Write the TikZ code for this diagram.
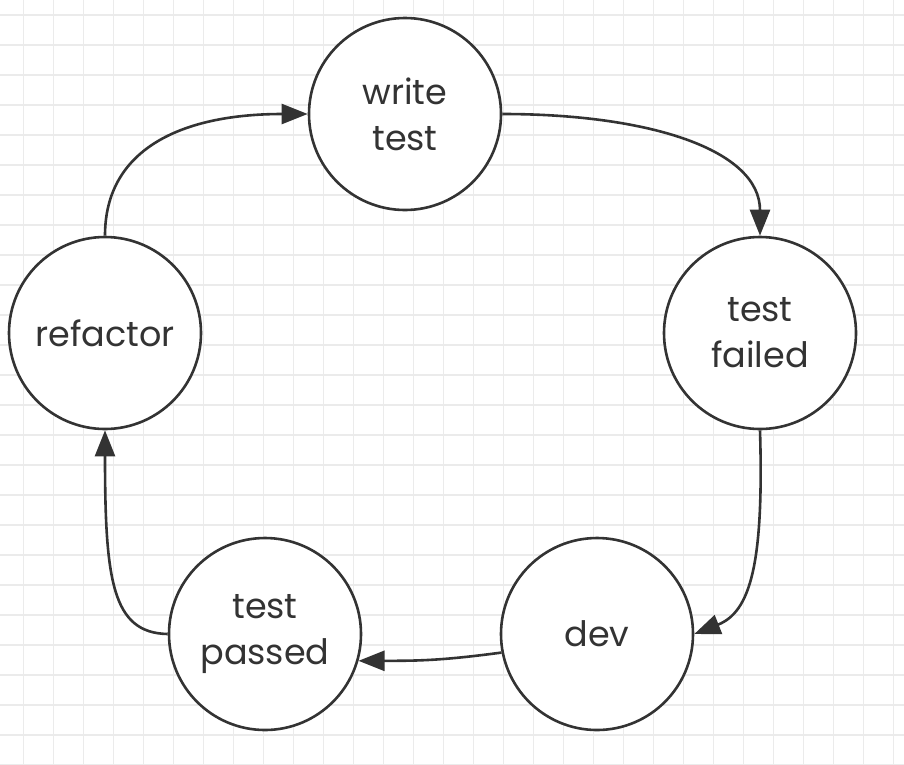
\documentclass[tikz,border=0pt]{standalone}
\usepackage{fontspec}
\setmainfont{Poppins}
\usetikzlibrary{arrows.meta}
\definecolor{ink}{HTML}{333333}
\definecolor{gridc}{HTML}{EBEBEB}
\tikzset{
  stage/.style={circle, draw=ink, line width=2.6pt, fill=white, minimum size=192pt, inner sep=0pt,
    text=ink, align=center, font=\fontsize{35}{46}\selectfont},
  flow/.style={draw=ink, line width=2.6pt, -{Triangle[length=26pt,width=20pt]}},
  gridline/.style={draw=gridc, line width=1.6pt}
}
\begin{document}
\begin{tikzpicture}[x=1pt, y=-1pt]
\useasboundingbox (0,0) rectangle (904,764);
\fill[white] (0,0) rectangle (904,764);
\foreach \k in {0,...,29} {
  \draw[gridline] ({23.3+30*\k},0) -- ({23.3+30*\k},764);
}
\foreach \k in {0,...,25} {
  \draw[gridline] (0,{15+30*\k}) -- (904,{15+30*\k});
}
\node[stage] (wt) at (405,114) {write\\test};
\node[stage] (tf) at (760,333) {test\\failed};
\node[stage] (dev) at (597,634) {dev};
\node[stage] (tp) at (265,634) {test\\passed};
\node[stage] (rf) at (105,333) {refactor};

\draw[flow] (wt.east) .. controls (650,114) and (760,150) .. (tf.north);
\draw[flow] (tf.south) .. controls (764,565) and (750,612) .. (dev.east);
\draw[flow] (dev.191) .. controls +(-60,8) and +(60,0) .. (tp.-16);
\draw[flow] (tp.west) .. controls (112,633) and (105,580) .. (rf.south);
\draw[flow] (rf.north) .. controls (105,150) and (180,114) .. (wt.west);
\end{tikzpicture}
\end{document}
